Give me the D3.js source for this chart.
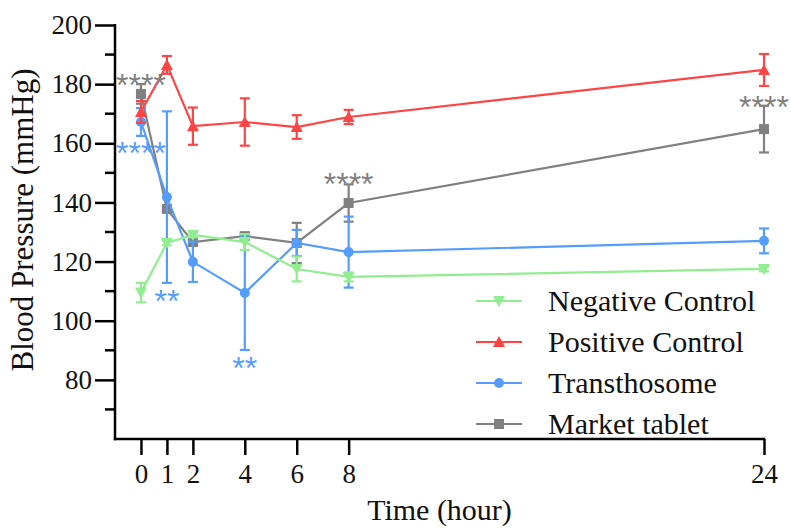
<!DOCTYPE html>
<html>
<head>
<meta charset="utf-8">
<script src="https://cdn.jsdelivr.net/npm/d3@7"></script>
<style>
  html, body { margin: 0; padding: 0; background: #fff; }
  svg { display: block; }
</style>
</head>
<body>
<svg id="chart" width="791" height="529"></svg>
<script>
// ---- data ----
const times = [0, 1, 2, 4, 6, 8, 24];
const xTicks = [0, 1, 2, 4, 6, 8, 24];
const yTicks = [80, 100, 120, 140, 160, 180, 200];
const yMinorTicks = [70, 90, 110, 130, 150, 170, 190];

const seriesNames = ["Negative Control", "Positive Control", "Transthosome", "Market tablet"];
const negMean = [109.5, 126.3, 129.0, 126.6, 117.5, 114.8, 117.5];
const negErr  = [3.3, 0.8, 0.8, 2.7, 4.2, 1.5, 0.8];
const posMean = [170.6, 186.5, 165.8, 167.2, 165.5, 168.9, 184.8];
const posErr  = [3.7, 3.0, 6.3, 8.0, 4.0, 2.4, 5.4];
const traMean = [167.2, 141.8, 119.9, 109.4, 126.3, 123.2, 127.0];
const traErr  = [4.7, 29.0, 6.8, 19.3, 4.4, 12.0, 4.2];
const mktMean = [176.7, 137.8, 126.6, 128.6, 126.3, 139.8, 164.8];
const mktErr  = [3.3, 1.0, 1.0, 1.0, 6.8, 6.3, 7.9];

// significance labels: series index, time, label, vertical position (mmHg)
const annSeries = [3, 2, 2, 2, 3, 3];
const annTime   = [0, 0, 1, 4, 8, 24];
const annText   = ["****", "****", "**", "**", "****", "****"];
const annValue  = [182.1, 159.1, 109.0, 86.4, 148.6, 174.6];

// ---- styling ----
const colors  = ["#90EE90", "#FF4444", "#559CFF", "#808080"];
const symbols = ["down", "up", "circle", "square"];
const means = [negMean, posMean, traMean, mktMean];
const errs  = [negErr, posErr, traErr, mktErr];
const SERIF = '"Liberation Serif"';
const SANS = '"Liberation Sans"';

const svg = d3.select("#chart");
const x = d3.scaleLinear().domain([-1, 24]).range([115, 764]);
const y = d3.scaleLinear().domain([60, 200]).range([439, 25]);

function marker(g, type, cx, cy, color) {
  if (type === "circle") {
    g.append("circle").attr("cx", cx).attr("cy", cy).attr("r", 5).attr("fill", color);
  } else if (type === "square") {
    g.append("rect").attr("x", cx - 5).attr("y", cy - 5).attr("width", 10).attr("height", 10).attr("fill", color);
  } else if (type === "up") {
    g.append("path").attr("d", `M${cx},${cy-6} L${cx+6},${cy+5} L${cx-6},${cy+5} Z`).attr("fill", color);
  } else {
    g.append("path").attr("d", `M${cx},${cy+6} L${cx+6},${cy-5} L${cx-6},${cy-5} Z`).attr("fill", color);
  }
}

// ---- axes ----
const yAxis = d3.axisLeft(y).tickValues(yTicks).tickSize(20).tickPadding(3).tickFormat(d3.format("d"));
const gy = svg.append("g").attr("transform", "translate(115,0)").call(yAxis);
gy.attr("font-family", null).attr("font-size", null);
gy.select(".domain").remove();
gy.append("line").attr("x1", 0).attr("x2", 0).attr("y1", y(200) - 1).attr("y2", y(60) + 1.2)
  .attr("stroke", "#000").attr("stroke-width", 2.5);
gy.selectAll(".tick line").attr("stroke", "#000").attr("stroke-width", 2.5);
gy.selectAll(".tick text").style("font-family", SERIF).style("font-size", "27px").attr("fill", "#111");
gy.selectAll(".minor").data(yMinorTicks).enter().append("line")
  .attr("x1", -10).attr("x2", 0).attr("y1", d => y(d)).attr("y2", d => y(d))
  .attr("stroke", "#000").attr("stroke-width", 2.5);

const xAxis = d3.axisBottom(x).tickValues(xTicks).tickSize(16).tickPadding(9).tickFormat(d3.format("d"));
const gx = svg.append("g").attr("transform", "translate(0,439)").call(xAxis);
gx.attr("font-family", null).attr("font-size", null);
gx.select(".domain").remove();
gx.append("line").attr("x1", x(-1) - 1.2).attr("x2", x(24) + 1.2).attr("y1", 0).attr("y2", 0)
  .attr("stroke", "#000").attr("stroke-width", 2.5);
gx.selectAll(".tick line").attr("stroke", "#000").attr("stroke-width", 2.5);
gx.selectAll(".tick text").style("font-family", SERIF).style("font-size", "27px").attr("fill", "#111");

svg.append("text").attr("x", (x(-1) + x(24)) / 2).attr("y", 520).attr("text-anchor", "middle")
  .style("font-family", SERIF).style("font-size", "30px").attr("fill", "#111").text("Time (hour)");
svg.append("text").attr("transform", `translate(33,${(y(60) + y(200)) / 2 - 12}) rotate(-90)`)
  .attr("text-anchor", "middle").style("font-family", SERIF).style("font-size", "31px").attr("fill", "#111")
  .text("Blood Pressure (mmHg)");

// ---- series ----
const line = d3.line().x(d => x(d[0])).y(d => y(d[1]));
[3, 2, 1, 0].forEach(s => {
  const g = svg.append("g");
  const col = colors[s];
  const pts = times.map((t, i) => [t, means[s][i], errs[s][i]]);
  g.append("path").attr("d", line(pts)).attr("fill", "none").attr("stroke", col).attr("stroke-width", 2.2);
  pts.forEach(p => {
    const cx = x(p[0]), lo = y(p[1] - p[2]), hi = y(p[1] + p[2]);
    g.append("line").attr("x1", cx).attr("x2", cx).attr("y1", lo).attr("y2", hi).attr("stroke", col).attr("stroke-width", 2.2);
    [lo, hi].forEach(v => g.append("line").attr("x1", cx - 5).attr("x2", cx + 5).attr("y1", v).attr("y2", v)
      .attr("stroke", col).attr("stroke-width", 2.2));
    marker(g, symbols[s], cx, y(p[1]), col);
  });
});

// ---- significance marks ----
annText.forEach((t, i) => {
  svg.append("text").attr("x", x(annTime[i])).attr("y", y(annValue[i]) + 18)
    .attr("text-anchor", "middle")
    .style("font-family", SANS).style("font-size", "32px").attr("fill", colors[annSeries[i]]).text(t);
});

// ---- legend ----
const legY = [301, 342, 383, 424];
seriesNames.forEach((name, i) => {
  const g = svg.append("g");
  g.append("line").attr("x1", 476).attr("x2", 522).attr("y1", legY[i]).attr("y2", legY[i])
    .attr("stroke", colors[i]).attr("stroke-width", 2.2);
  marker(g, symbols[i], 499, legY[i], colors[i]);
  g.append("text").attr("x", 548).attr("y", legY[i] + 10)
    .style("font-family", SERIF).style("font-size", "30px").attr("fill", "#111").text(name);
});
</script>
</body>
</html>
